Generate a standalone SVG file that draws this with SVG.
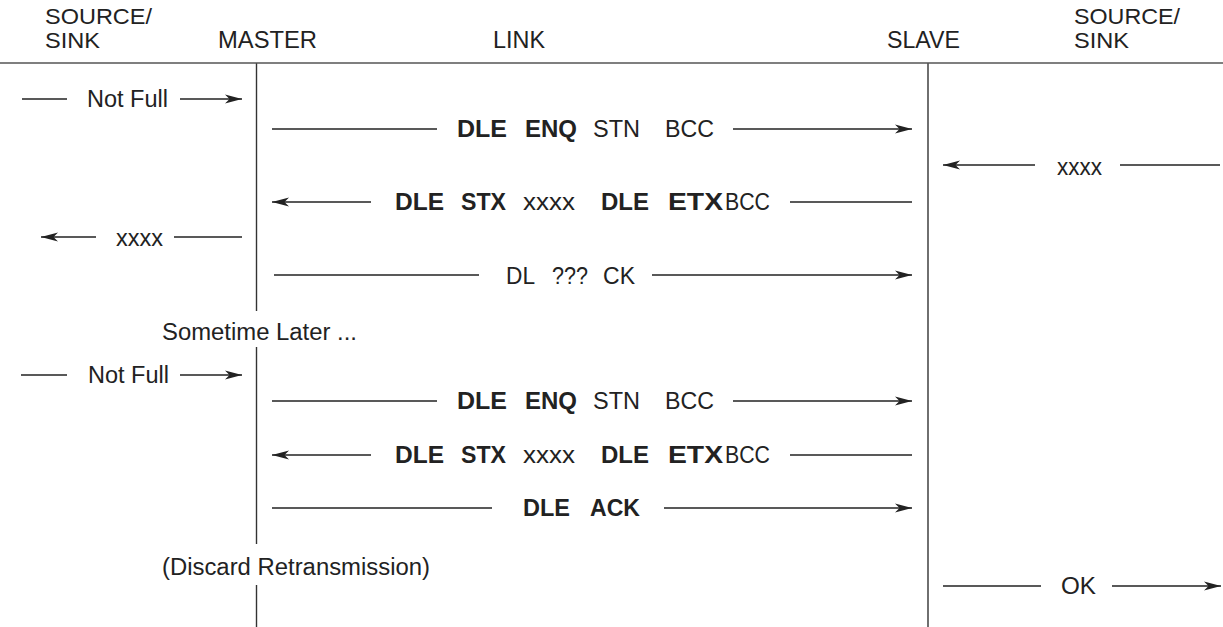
<svg xmlns="http://www.w3.org/2000/svg" width="1223" height="627" viewBox="0 0 1223 627">
<style>
text{font-family:"Liberation Sans",Arial,Helvetica,sans-serif;font-size:23.5px;fill:#222}
.h2{font-size:21.5px}
.b{font-weight:bold}
.ln{stroke:#222;stroke-width:1.3;fill:none}
.life{stroke:#333;stroke-width:1.4;fill:none}
.rule{stroke:#555;stroke-width:1.6;fill:none}
.arr{marker-end:url(#ah)}
</style>
<defs>
<marker id="ah" markerWidth="19" markerHeight="12" refX="17" refY="6" orient="auto" markerUnits="userSpaceOnUse">
<path d="M0,1.5 L17,6 L0,10.5 L4.5,6 z" fill="#222"/>
</marker>
</defs>
<rect width="1223" height="627" fill="#fff"/>

<g id="node-source-left">
<text class="h2" x="45" y="23.5" textLength="107" lengthAdjust="spacingAndGlyphs">SOURCE/</text>
<text class="h2" x="45" y="48" textLength="55" lengthAdjust="spacingAndGlyphs">SINK</text>
</g>
<g id="node-master">
<text x="218" y="48" textLength="99" lengthAdjust="spacingAndGlyphs">MASTER</text>
<line class="life" x1="256.5" y1="63" x2="256.5" y2="311"/>
<line class="life" x1="256.5" y1="347" x2="256.5" y2="544"/>
<line class="life" x1="256.5" y1="585" x2="256.5" y2="627"/>
</g>
<g id="node-link">
<text x="493" y="48" textLength="52" lengthAdjust="spacingAndGlyphs">LINK</text>
</g>
<g id="node-slave">
<text x="887" y="48" textLength="73" lengthAdjust="spacingAndGlyphs">SLAVE</text>
<line class="life" x1="928" y1="63" x2="928" y2="627"/>
</g>
<g id="node-source-right">
<text class="h2" x="1074" y="23.5" textLength="106" lengthAdjust="spacingAndGlyphs">SOURCE/</text>
<text class="h2" x="1074" y="48" textLength="55" lengthAdjust="spacingAndGlyphs">SINK</text>
</g>
<line class="rule" x1="0" y1="63" x2="1223" y2="63"/>

<g id="connectors">
<!-- row 1 -->
<line class="ln" x1="22" y1="99" x2="67" y2="99"/>
<line class="ln arr" x1="180" y1="99" x2="242" y2="99"/>
<!-- row 2 -->
<line class="ln" x1="272" y1="129" x2="437" y2="129"/>
<line class="ln arr" x1="733" y1="129" x2="912" y2="129"/>
<!-- right xxxx -->
<line class="ln arr" x1="1035" y1="165" x2="943" y2="165"/>
<line class="ln" x1="1120" y1="165" x2="1220" y2="165"/>
<!-- row 3 -->
<line class="ln arr" x1="371" y1="202" x2="272" y2="202"/>
<line class="ln" x1="790" y1="202" x2="912" y2="202"/>
<!-- left xxxx -->
<line class="ln arr" x1="96" y1="237" x2="41" y2="237"/>
<line class="ln" x1="174" y1="237" x2="242" y2="237"/>
<!-- row 4 -->
<line class="ln" x1="274" y1="275" x2="479" y2="275"/>
<line class="ln arr" x1="652" y1="275" x2="912" y2="275"/>
<!-- row 5 -->
<line class="ln" x1="21" y1="375" x2="67" y2="375"/>
<line class="ln arr" x1="180" y1="375" x2="242" y2="375"/>
<!-- row 6 -->
<line class="ln" x1="272" y1="401" x2="437" y2="401"/>
<line class="ln arr" x1="733" y1="401" x2="912" y2="401"/>
<!-- row 7 -->
<line class="ln arr" x1="371" y1="455" x2="272" y2="455"/>
<line class="ln" x1="790" y1="455" x2="912" y2="455"/>
<!-- row 8 -->
<line class="ln" x1="272" y1="508" x2="492" y2="508"/>
<line class="ln arr" x1="664" y1="508" x2="912" y2="508"/>
<!-- OK -->
<line class="ln" x1="943" y1="586" x2="1041" y2="586"/>
<line class="ln arr" x1="1112" y1="586" x2="1221" y2="586"/>
</g>

<g id="labels">
<text x="87" y="107" textLength="81" lengthAdjust="spacingAndGlyphs">Not Full</text>

<text class="b" x="457" y="137" textLength="50" lengthAdjust="spacingAndGlyphs">DLE</text>
<text class="b" x="525" y="137" textLength="52" lengthAdjust="spacingAndGlyphs">ENQ</text>
<text x="593" y="137" textLength="47" lengthAdjust="spacingAndGlyphs">STN</text>
<text x="665" y="137" textLength="49" lengthAdjust="spacingAndGlyphs">BCC</text>

<text x="1057" y="175" textLength="45" lengthAdjust="spacingAndGlyphs">xxxx</text>

<text class="b" x="395" y="210" textLength="49" lengthAdjust="spacingAndGlyphs">DLE</text>
<text class="b" x="461" y="210" textLength="45" lengthAdjust="spacingAndGlyphs">STX</text>
<text x="523" y="210" textLength="52" lengthAdjust="spacingAndGlyphs">xxxx</text>
<text class="b" x="601" y="210" textLength="48" lengthAdjust="spacingAndGlyphs">DLE</text>
<text class="b" x="668" y="210" textLength="55" lengthAdjust="spacingAndGlyphs">ETX</text>
<text x="725" y="210" textLength="45" lengthAdjust="spacingAndGlyphs">BCC</text>

<text x="116" y="246" textLength="47" lengthAdjust="spacingAndGlyphs">xxxx</text>

<text x="506" y="284" textLength="29" lengthAdjust="spacingAndGlyphs">DL</text>
<text x="552" y="284" textLength="36" lengthAdjust="spacingAndGlyphs">???</text>
<text x="603" y="284" textLength="32" lengthAdjust="spacingAndGlyphs">CK</text>

<text x="162" y="340" textLength="195" lengthAdjust="spacingAndGlyphs">Sometime Later ...</text>

<text x="88" y="383" textLength="81" lengthAdjust="spacingAndGlyphs">Not Full</text>

<text class="b" x="457" y="409" textLength="50" lengthAdjust="spacingAndGlyphs">DLE</text>
<text class="b" x="525" y="409" textLength="52" lengthAdjust="spacingAndGlyphs">ENQ</text>
<text x="593" y="409" textLength="47" lengthAdjust="spacingAndGlyphs">STN</text>
<text x="665" y="409" textLength="49" lengthAdjust="spacingAndGlyphs">BCC</text>

<text class="b" x="395" y="463" textLength="49" lengthAdjust="spacingAndGlyphs">DLE</text>
<text class="b" x="461" y="463" textLength="45" lengthAdjust="spacingAndGlyphs">STX</text>
<text x="523" y="463" textLength="52" lengthAdjust="spacingAndGlyphs">xxxx</text>
<text class="b" x="601" y="463" textLength="48" lengthAdjust="spacingAndGlyphs">DLE</text>
<text class="b" x="668" y="463" textLength="55" lengthAdjust="spacingAndGlyphs">ETX</text>
<text x="725" y="463" textLength="45" lengthAdjust="spacingAndGlyphs">BCC</text>

<text class="b" x="523" y="516" textLength="47" lengthAdjust="spacingAndGlyphs">DLE</text>
<text class="b" x="590" y="516" textLength="50" lengthAdjust="spacingAndGlyphs">ACK</text>

<text x="162" y="575" textLength="268" lengthAdjust="spacingAndGlyphs">(Discard Retransmission)</text>

<text x="1061" y="594" textLength="35" lengthAdjust="spacingAndGlyphs">OK</text>
</g>
</svg>
